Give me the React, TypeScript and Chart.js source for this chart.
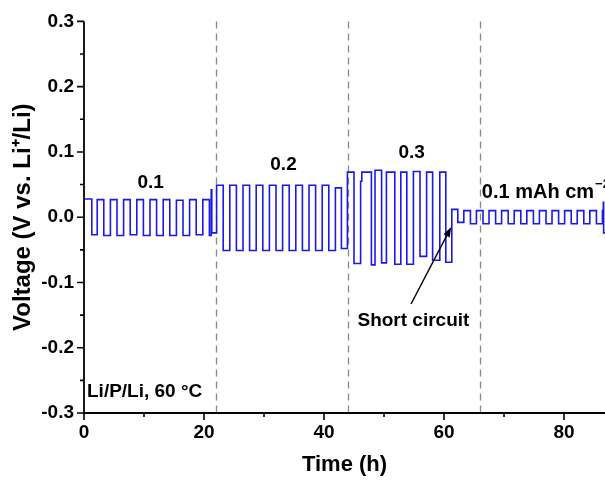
import { useEffect, useRef } from 'react';
import { Chart, registerables } from 'chart.js';

Chart.register(...registerables);

// ---- Data (time in h, voltage in V) : switching times and plateau levels ----
const seg1Time = [0, 1.3, 2.2, 3.3, 4.4, 5.5, 6.6, 7.7, 8.8, 9.9, 11.0, 12.1, 13.2, 14.3, 15.4, 16.5, 17.6, 18.7, 19.8, 20.9, 21.2, 21.3];
const seg1Volt = [0.028, -0.027, 0.027, -0.028, 0.027, -0.028, 0.027, -0.027, 0.027, -0.028, 0.027, -0.028, 0.027, -0.028, 0.026, -0.028, 0.027, -0.027, 0.027, -0.028, 0.042, -0.024];

const seg2Time = [22.1, 23.2, 24.3, 25.4, 26.5, 27.6, 28.7, 29.8, 30.9, 32.0, 33.1, 34.2, 35.3, 36.4, 37.5, 38.6, 39.7, 40.8, 41.9, 42.9];
const seg2Volt = [0.049, -0.051, 0.049, -0.051, 0.049, -0.051, 0.049, -0.051, 0.049, -0.051, 0.049, -0.051, 0.049, -0.051, 0.049, -0.051, 0.049, -0.051, 0.045, -0.048];

const seg3Time = [43.9, 45.0, 46.1, 46.3, 47.9, 48.5, 49.6, 50.4, 51.8, 52.8, 53.8, 54.9, 56.0, 57.1, 58.1, 59.3, 60.3];
const seg3Volt = [0.069, -0.071, 0.055, 0.069, -0.073, 0.072, -0.070, 0.069, -0.072, 0.069, -0.072, 0.070, -0.060, 0.069, -0.066, 0.069, -0.069];

const seg4Time = [61.3, 62.3, 63.3, 64.4, 65.4, 66.5, 67.5, 68.6, 69.6, 70.7, 71.7, 72.8, 73.8, 74.9, 75.9, 77.0, 78.0, 79.1, 80.1, 81.2, 82.2, 83.3, 84.3, 85.4, 86.4, 86.55, 86.6, 87.5];
const seg4Volt = [0.012, -0.008, 0.010, -0.010, 0.010, -0.010, 0.010, -0.010, 0.010, -0.010, 0.010, -0.010, 0.010, -0.010, 0.010, -0.010, 0.010, -0.010, 0.010, -0.010, 0.010, -0.010, 0.010, -0.010, 0.010, 0.023, -0.024, -0.024];

// vertical dashed separators (h)
const dividerTimes = [22, 44, 66];

// ticks
const xMajorTicks = [0, 20, 40, 60, 80];
const xMinorTicks = [10, 30, 50, 70];
const yMajorTicks = [-0.3, -0.2, -0.1, 0.0, 0.1, 0.2, 0.3];
const yMinorTicks = [-0.25, -0.15, -0.05, 0.05, 0.15, 0.25];

// annotations (data coordinates)
const rateLabels = ['0.1', '0.2', '0.3'];
const rateLabelTime = [11.1, 33.25, 54.6];
const rateLabelVolt = [0.052, 0.081, 0.0985];
const lastRateLabel = { text: '0.1 mAh cm', sup: '\u22122', time: 66.3, volt: 0.038 };
const shortLabel = { text: 'Short circuit', time: 54.9, volt: -0.158 };
const arrowFrom = { time: 54.5, volt: -0.133 };
const arrowTo = { time: 61.2, volt: -0.015 };
const cellLabel = { text: 'Li/P/Li, 60 \u00B0C', time: 0.5, volt: -0.268 };

const FONT = '"Liberation Sans", Arial, sans-serif';

function buildPoints() {
  const pts: { x: number; y: number }[] = [];
  const add = (t: number[], v: number[]) => t.forEach((tt, i) => pts.push({ x: tt, y: v[i] }));
  add(seg1Time, seg1Volt);
  add(seg2Time, seg2Volt);
  add(seg3Time, seg3Volt);
  add(seg4Time, seg4Volt);
  return pts;
}

const isIn = (arr: number[], v: number) => arr.some((a) => Math.abs(a - v) < 1e-6);

const overlayPlugin = {
  id: 'overlay',
  beforeDatasetsDraw(chart: any) {
    const { ctx, chartArea, scales } = chart;
    const x = scales.x;
    ctx.save();
    ctx.strokeStyle = '#8a8a8a';
    ctx.lineWidth = 1.3;
    ctx.setLineDash([7, 5]);
    dividerTimes.forEach((t) => {
      const px = Math.round(x.getPixelForValue(t)) + 0.5;
      ctx.beginPath();
      ctx.moveTo(px, chartArea.top);
      ctx.lineTo(px, chartArea.bottom);
      ctx.stroke();
    });
    ctx.restore();
  },
  afterDraw(chart: any) {
    const { ctx, chartArea, scales } = chart;
    const x = scales.x;
    const y = scales.y;
    const { left, right, top, bottom } = chartArea;
    ctx.save();
    // axes
    ctx.strokeStyle = '#000';
    ctx.lineWidth = 1.8;
    ctx.beginPath();
    ctx.moveTo(left, top);
    ctx.lineTo(left, bottom);
    ctx.lineTo(right, bottom);
    ctx.stroke();
    // tick marks
    ctx.lineWidth = 1.6;
    ctx.beginPath();
    y.ticks.forEach((t: any) => {
      const py = y.getPixelForValue(t.value);
      const len = isIn(yMajorTicks, t.value) ? 7 : 4;
      ctx.moveTo(left, py);
      ctx.lineTo(left - len, py);
    });
    x.ticks.forEach((t: any) => {
      const px = x.getPixelForValue(t.value);
      const len = isIn(xMajorTicks, t.value) ? 7 : 4;
      ctx.moveTo(px, bottom);
      ctx.lineTo(px, bottom + len);
    });
    ctx.stroke();

    // text annotations
    ctx.fillStyle = '#000';
    ctx.font = `bold 19px ${FONT}`;
    ctx.textBaseline = 'middle';
    ctx.textAlign = 'center';
    rateLabels.forEach((s, i) => {
      ctx.fillText(s, x.getPixelForValue(rateLabelTime[i]), y.getPixelForValue(rateLabelVolt[i]));
    });
    ctx.font = `bold 20px ${FONT}`;
    ctx.textAlign = 'left';
    const lx = x.getPixelForValue(lastRateLabel.time);
    const ly = y.getPixelForValue(lastRateLabel.volt);
    ctx.fillText(lastRateLabel.text, lx, ly);
    const w = ctx.measureText(lastRateLabel.text).width;
    ctx.font = `bold 13px ${FONT}`;
    ctx.fillText(lastRateLabel.sup, lx + w + 1, ly - 8);

    ctx.font = `bold 19px ${FONT}`;
    ctx.textAlign = 'center';
    ctx.fillText(shortLabel.text, x.getPixelForValue(shortLabel.time), y.getPixelForValue(shortLabel.volt));
    ctx.textAlign = 'left';
    ctx.fillText(cellLabel.text, x.getPixelForValue(cellLabel.time), y.getPixelForValue(cellLabel.volt));

    // arrow
    const ax0 = x.getPixelForValue(arrowFrom.time);
    const ay0 = y.getPixelForValue(arrowFrom.volt);
    const ax1 = x.getPixelForValue(arrowTo.time);
    const ay1 = y.getPixelForValue(arrowTo.volt);
    const ang = Math.atan2(ay1 - ay0, ax1 - ax0);
    const hl = 10;
    const hw = 3.5;
    const bx = ax1 - hl * Math.cos(ang);
    const by = ay1 - hl * Math.sin(ang);
    ctx.strokeStyle = '#000';
    ctx.lineWidth = 1.4;
    ctx.beginPath();
    ctx.moveTo(ax0, ay0);
    ctx.lineTo(bx, by);
    ctx.stroke();
    ctx.beginPath();
    ctx.moveTo(ax1, ay1);
    ctx.lineTo(bx + hw * Math.sin(ang), by - hw * Math.cos(ang));
    ctx.lineTo(bx - hw * Math.sin(ang), by + hw * Math.cos(ang));
    ctx.closePath();
    ctx.fill();
    ctx.restore();
  },
};

export default function App() {
  const ref = useRef<HTMLCanvasElement>(null);
  useEffect(() => {
    if (!ref.current) return;
    const chart = new Chart(ref.current, {
      type: 'line',
      data: {
        datasets: [
          {
            data: buildPoints(),
            stepped: true,
            borderColor: 'rgb(25,25,235)',
            borderWidth: 1.6,
            pointRadius: 0,
            fill: false,
          },
        ],
      },
      options: {
        responsive: false,
        animation: false,
        layout: { padding: { top: 20, right: 0, left: 0, bottom: 0 } },
        plugins: { legend: { display: false }, tooltip: { enabled: false } },
        scales: {
          x: {
            type: 'linear',
            min: 0,
            max: 86.83,
            afterBuildTicks: (s: any) => {
              s.ticks = [...xMajorTicks, ...xMinorTicks].sort((a, b) => a - b).map((v) => ({ value: v }));
            },
            afterFit: (s: any) => {
              s.height = 70;
            },
            ticks: {
              autoSkip: false,
              maxRotation: 0,
              includeBounds: false,
              padding: 8,
              color: '#000',
              font: { family: FONT, size: 19, weight: 'bold' },
              callback: (v: any) => (isIn(xMajorTicks, Number(v)) ? String(Math.round(Number(v))) : ''),
            },
            grid: { display: false, drawTicks: false },
            border: { display: false },
            title: {
              display: true,
              text: 'Time (h)',
              color: '#000',
              font: { family: FONT, size: 22, weight: 'bold' },
              padding: { top: 0, bottom: 5 },
            },
          },
          y: {
            type: 'linear',
            min: -0.3,
            max: 0.3,
            afterBuildTicks: (s: any) => {
              s.ticks = [...yMajorTicks, ...yMinorTicks].sort((a, b) => a - b).map((v) => ({ value: v }));
            },
            afterFit: (s: any) => {
              s.width = 84;
            },
            ticks: {
              autoSkip: false,
              includeBounds: false,
              padding: 10,
              color: '#000',
              font: { family: FONT, size: 19, weight: 'bold' },
              callback: (v: any) => (isIn(yMajorTicks, Number(v)) ? Number(v).toFixed(1) : ''),
            },
            grid: { display: false, drawTicks: false },
            border: { display: false },
            title: {
              display: true,
              text: 'Voltage (V vs. Li\u207A/Li)',
              color: '#000',
              font: { family: FONT, size: 24, weight: 'bold' },
              padding: { top: 9, bottom: 0 },
            },
          },
        },
      },
      plugins: [overlayPlugin],
    });
    return () => chart.destroy();
  }, []);
  return (
    <div style={{ position: 'fixed', left: 0, top: 0, width: 605, height: 483, background: '#fff' }}>
      <canvas ref={ref} width={605} height={483} style={{ display: 'block' }} />
    </div>
  );
}
